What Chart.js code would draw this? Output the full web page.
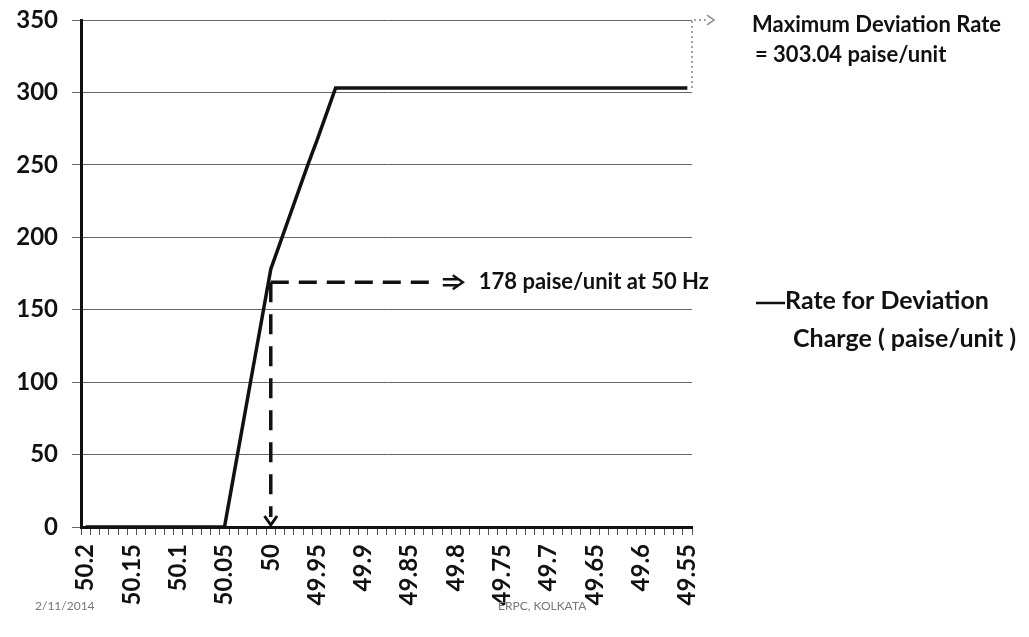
<!DOCTYPE html>
<html lang="en">
  <head>
    <meta charset="UTF-8" />
    <title>Rate for Deviation Charge</title>
    <script src="https://cdn.jsdelivr.net/npm/chart.js"></script>
    <style>
      body { margin: 0; background: #fff; }
    </style>
  </head>
  <body>
    <canvas id="dsmChart" width="1029" height="637"></canvas>
    <script>
      // frequency steps (Hz), 50.20 down to 49.55
      var freqLabels = [
        "50.2", "50.19", "50.18", "50.17", "50.16", "50.15", "50.14", "50.13", "50.12", "50.11",
        "50.1", "50.09", "50.08", "50.07", "50.06", "50.05", "50.04", "50.03", "50.02", "50.01",
        "50", "49.99", "49.98", "49.97", "49.96", "49.95", "49.94", "49.93", "49.92", "49.91",
        "49.9", "49.89", "49.88", "49.87", "49.86", "49.85", "49.84", "49.83", "49.82", "49.81",
        "49.8", "49.79", "49.78", "49.77", "49.76", "49.75", "49.74", "49.73", "49.72", "49.71",
        "49.7", "49.69", "49.68", "49.67", "49.66", "49.65", "49.64", "49.63", "49.62", "49.61",
        "49.6", "49.59", "49.58", "49.57", "49.56", "49.55"
      ];

      // paise/unit
      var deviationRate = [
        0, 0, 0, 0, 0, 0, 0, 0, 0, 0,
        0, 0, 0, 0, 0, 0, 35.6, 71.2, 106.8, 142.4,
        178, 196, 214, 232, 250, 267, 285, 303.04, 303.04, 303.04,
        303.04, 303.04, 303.04, 303.04, 303.04, 303.04, 303.04, 303.04, 303.04, 303.04,
        303.04, 303.04, 303.04, 303.04, 303.04, 303.04, 303.04, 303.04, 303.04, 303.04,
        303.04, 303.04, 303.04, 303.04, 303.04, 303.04, 303.04, 303.04, 303.04, 303.04,
        303.04, 303.04, 303.04, 303.04, 303.04, 303.04
      ];

      var yTicks = [0, 50, 100, 150, 200, 250, 300, 350];
      var markFreq = "50";
      var markRate = 169;

      var fontFam = "Lato, 'Open Sans', sans-serif";

      function arrowHead(ctx, x, y, dir, size) {
        ctx.beginPath();
        if (dir === "right") {
          ctx.moveTo(x - size, y - size * 0.7);
          ctx.lineTo(x, y);
          ctx.lineTo(x - size, y + size * 0.7);
        } else {
          ctx.moveTo(x - size * 0.7, y - size);
          ctx.lineTo(x, y);
          ctx.lineTo(x + size * 0.7, y - size);
        }
        ctx.stroke();
      }

      var notes = {
        id: "notes",
        afterDatasetsDraw: function (chart) {
          var ctx = chart.ctx;
          var xs = chart.scales.x;
          var ys = chart.scales.y;
          var area = chart.chartArea;
          var x50 = xs.getPixelForValue(freqLabels.indexOf(markFreq));
          var yMark = ys.getPixelForValue(markRate);
          var yMax = ys.getPixelForValue(Math.max.apply(null, deviationRate));
          var yTop = ys.getPixelForValue(350);

          ctx.save();
          ctx.strokeStyle = "#111";
          ctx.lineWidth = 3.5;

          // horizontal dashed arrow
          ctx.setLineDash([18, 10]);
          ctx.beginPath();
          ctx.moveTo(x50, yMark);
          ctx.lineTo(x50 + 164, yMark);
          ctx.stroke();
          ctx.setLineDash([]);
          ctx.lineWidth = 2.5;
          arrowHead(ctx, x50 + 192, yMark, "right", 10);
          ctx.beginPath();
          ctx.moveTo(x50 + 172, yMark - 3);
          ctx.lineTo(x50 + 187, yMark - 3);
          ctx.moveTo(x50 + 172, yMark + 3);
          ctx.lineTo(x50 + 187, yMark + 3);
          ctx.stroke();

          // vertical dashed arrow
          ctx.lineWidth = 3.5;
          ctx.setLineDash([20, 12]);
          ctx.beginPath();
          ctx.moveTo(x50, yMark);
          ctx.lineTo(x50, area.bottom - 10);
          ctx.stroke();
          ctx.setLineDash([]);
          ctx.lineWidth = 3;
          arrowHead(ctx, x50, area.bottom - 2, "down", 9);

          // dotted marker for maximum rate
          ctx.strokeStyle = "#888";
          ctx.lineWidth = 1.5;
          ctx.setLineDash([2, 3]);
          ctx.beginPath();
          ctx.moveTo(area.right, yMax);
          ctx.lineTo(area.right, yTop);
          ctx.lineTo(area.right + 14, yTop);
          ctx.stroke();
          ctx.setLineDash([]);
          arrowHead(ctx, area.right + 22, yTop, "right", 7);

          // texts
          ctx.fillStyle = "#111";
          ctx.textBaseline = "middle";
          ctx.textAlign = "left";
          ctx.font = "bold 22px " + fontFam;
          ctx.fillText("178 paise/unit at 50 Hz", x50 + 208, yMark);
          ctx.fillText("Maximum Deviation Rate", 752, 25);
          ctx.fillText("= 303.04 paise/unit", 755, 55);

          // legend
          ctx.strokeStyle = "#111";
          ctx.lineWidth = 2.5;
          ctx.beginPath();
          ctx.moveTo(756, 303);
          ctx.lineTo(785, 303);
          ctx.stroke();
          ctx.font = "bold 25px " + fontFam;
          ctx.fillText("Rate for Deviation", 785, 301);
          ctx.fillText("Charge ( paise/unit )", 793, 339);

          // footer
          ctx.fillStyle = "#777";
          ctx.font = "12px " + fontFam;
          ctx.fillText("2/11/2014", 35, 606);
          ctx.fillText("ERPC, KOLKATA", 498, 606);
          ctx.restore();
        }
      };

      var ctx = document.getElementById("dsmChart").getContext("2d");
      var dsmChart = new Chart(ctx, {
        type: "line",
        data: {
          labels: freqLabels,
          datasets: [
            {
              label: "Rate for Deviation Charge ( paise/unit )",
              data: deviationRate,
              borderColor: "#111",
              borderWidth: 3.5,
              pointRadius: 0,
              tension: 0,
              fill: false,
            },
          ],
        },
        options: {
          responsive: false,
          animation: false,
          layout: { padding: { left: 0, right: 337, top: 0, bottom: 0 } },
          plugins: {
            legend: { display: false },
            tooltip: { enabled: false },
          },
          scales: {
            x: {
              offset: true,
              afterFit: function (axis) {
                axis.height = 110;
              },
              grid: {
                offset: true,
                drawOnChartArea: false,
                drawTicks: true,
                tickLength: 8,
                color: "#555",
              },
              border: { color: "#111", width: 3 },
              ticks: {
                autoSkip: false,
                maxRotation: 90,
                minRotation: 90,
                padding: 9,
                color: "#111",
                font: { family: fontFam, size: 24, weight: "bold" },
                callback: function (val, i) {
                  return i % 5 === 0 ? freqLabels[i] : "";
                },
              },
            },
            y: {
              min: 0,
              max: 350,
              afterFit: function (axis) {
                axis.width = 81;
                axis.paddingTop = 20;
                axis.paddingBottom = 0;
              },
              afterBuildTicks: function (axis) {
                axis.ticks = yTicks.map(function (v) { return { value: v }; });
              },
              grid: { color: "#666", lineWidth: 1, tickLength: 9 },
              border: { color: "#111", width: 3 },
              ticks: {
                padding: 14,
                color: "#111",
                font: { family: fontFam, size: 24, weight: "bold" },
              },
            },
          },
        },
        plugins: [notes],
      });
    </script>
  </body>
</html>
